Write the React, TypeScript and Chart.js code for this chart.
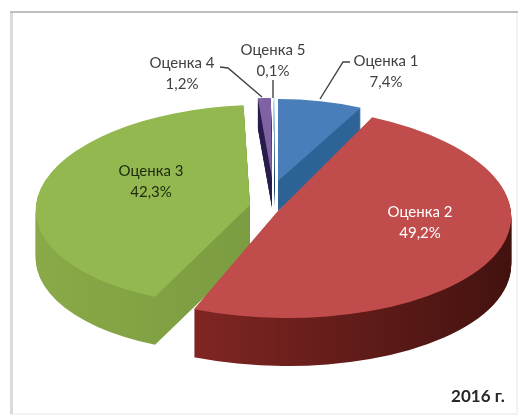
import React, { useEffect, useRef } from "react";
import { Chart, registerables } from "chart.js";

Chart.register(...registerables);

const categories = ["Оценка 1", "Оценка 2", "Оценка 3", "Оценка 4", "Оценка 5"];
const seriesValues = [7.4, 49.2, 42.3, 1.2, 0.1];
const topColors = ["#4A7EBB", "#C04C4B", "#94B850", "#7E62A4", "#CFE6F5"];
const sideStops = [
  ["#2A5F92", "#2F6598"],
  ["#9A2E2B", "#42120F"],
  ["#8AAA48", "#6C8E38"],
  ["#2A1F52", "#241A46"],
  ["#1F3F66", "#1F3F66"],
];
const labelColors = ["#404040", "#FFFFFF", "#1E2A10", "#404040", "#404040"];

// placement of each exploded, perspective-tilted slice: apex x/y, x radius, y radius, depth, shear
const placement = [
  { x: 278, y: 181, a: 185, b: 82, d: 30, k: 0 },
  { x: 277, y: 212, a: 234, b: 106, d: 48, k: 0.1 },
  { x: 250, y: 205, a: 214, b: 100, d: 48, k: -0.11 },
  { x: 272, y: 178, a: 175, b: 80, d: 30, k: 0 },
  { x: 275, y: 178, a: 175, b: 80, d: 30, k: 0 },
];
const drawOrder = [0, 3, 4, 2, 1];
const labelPlace = [
  { x: 386, y: 61 },
  { x: 420, y: 212 },
  { x: 151, y: 171 },
  { x: 182, y: 63 },
  { x: 273, y: 50 },
];
const leaders = [
  [[350, 62], [343, 62], [320, 99]],
  null,
  null,
  [[220, 67], [228, 68], [262, 97]],
  [[273, 80], [273, 98]],
] as (number[][] | null)[];

const fmt = (v: number) => v.toFixed(1).replace(".", ",") + "%";

const pie3d = {
  id: "pie3d",
  beforeDraw(chart: any) {
    const ctx: CanvasRenderingContext2D = chart.ctx;
    ctx.save();
    ctx.fillStyle = "#F3F3F3";
    ctx.fillRect(516, 12, 2, 402);
    ctx.fillRect(10, 413, 508, 2);
    ctx.fillStyle = "#DADADA";
    ctx.fillRect(10, 12, 3, 402);
    ctx.fillStyle = "#BEBEBE";
    ctx.fillRect(10, 11, 508, 2);
    ctx.restore();
  },
  beforeDatasetDraw(chart: any) {
    const ctx: CanvasRenderingContext2D = chart.ctx;
    const arcs = chart.getDatasetMeta(0).data;
    const scaleR = arcs[0].outerRadius;
    const cx = arcs[0].x;
    const cy = arcs[0].y;
    for (const i of drawOrder) {
      const arc = arcs[i];
      const p = placement[i];
      const saved = arc.options;
      const apply = (dy: number) => {
        ctx.save();
        ctx.translate(p.x, p.y + dy);
        ctx.transform(1, 0, p.k, 1, 0, 0);
        ctx.scale(p.a / scaleR, p.b / scaleR);
        ctx.translate(-cx, -cy);
      };
      for (let d = p.d; d >= 1; d--) {
        apply(d);
        const g = ctx.createLinearGradient(cx - scaleR, 0, cx + scaleR, 0);
        g.addColorStop(0, sideStops[i][0]);
        g.addColorStop(1, sideStops[i][1]);
        arc.options = { ...saved, backgroundColor: g, borderWidth: 0 };
        arc.draw(ctx);
        ctx.restore();
      }
      apply(0);
      arc.options = { ...saved, borderWidth: 0 };
      arc.draw(ctx);
      ctx.restore();
      arc.options = saved;
    }
    return false;
  },
  afterDatasetsDraw(chart: any) {
    const ctx: CanvasRenderingContext2D = chart.ctx;
    ctx.save();
    ctx.strokeStyle = "#404040";
    ctx.lineWidth = 1.4;
    leaders.forEach((l) => {
      if (!l) return;
      ctx.beginPath();
      l.forEach((pt, k) => (k ? ctx.lineTo(pt[0], pt[1]) : ctx.moveTo(pt[0], pt[1])));
      ctx.stroke();
    });
    ctx.font = "15px Lato";
    ctx.textAlign = "center";
    ctx.textBaseline = "middle";
    categories.forEach((c, i) => {
      ctx.fillStyle = labelColors[i];
      ctx.fillText(c, labelPlace[i].x, labelPlace[i].y);
      ctx.fillText(fmt(seriesValues[i]), labelPlace[i].x, labelPlace[i].y + 21);
    });
    ctx.font = "bold 17px Lato";
    ctx.fillStyle = "#262626";
    ctx.fillText("2016 г.", 478, 397);
    ctx.restore();
  },
};

export default function App() {
  const ref = useRef<HTMLCanvasElement>(null);
  useEffect(() => {
    document.body.style.margin = "0";
    document.body.style.background = "#FFFFFF";
    const chart = new Chart(ref.current!, {
      type: "pie",
      data: {
        labels: categories,
        datasets: [{ data: seriesValues, backgroundColor: topColors, borderWidth: 0 }],
      },
      options: {
        responsive: false,
        animation: false,
        plugins: { legend: { display: false }, tooltip: { enabled: false }, title: { display: false } },
      },
      plugins: [pie3d],
    });
    return () => chart.destroy();
  }, []);
  return <canvas ref={ref} width={522} height={416} style={{ display: "block", filter: "blur(0.6px)" }} />;
}
